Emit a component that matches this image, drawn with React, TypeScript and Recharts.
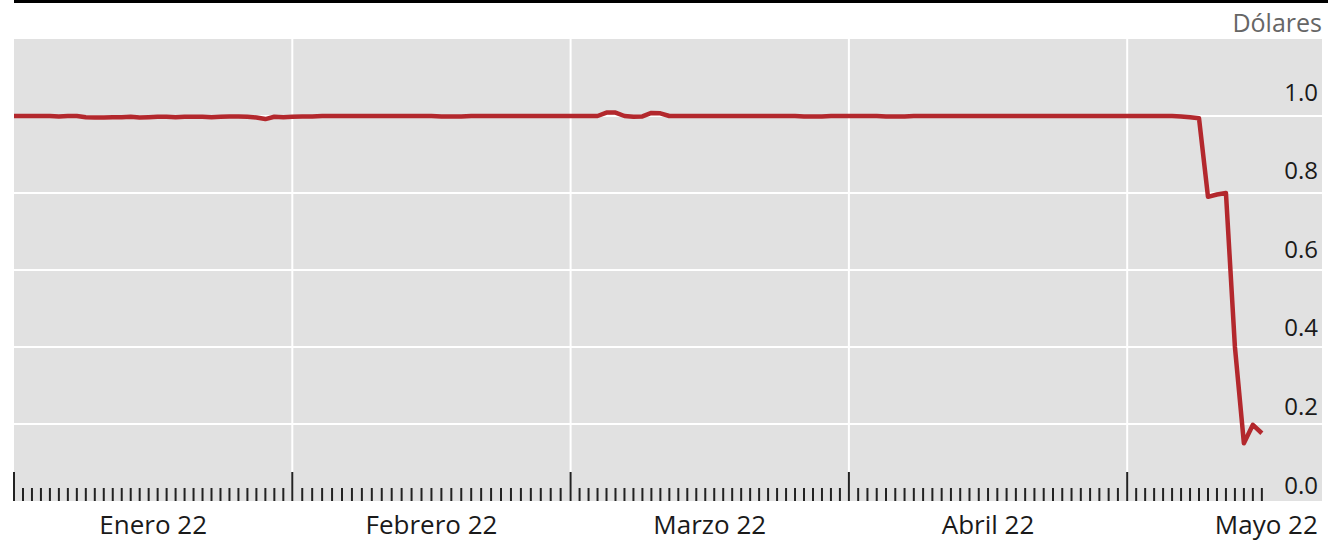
import { CartesianGrid, Line, LineChart, XAxis, YAxis } from 'recharts';

// UST price, daily closes, Jan 1 – May 16 2022. Each month gets the same
// width on the x axis, so a day sits at monthIndex + (day - 1) / daysInMonth.

const MONTH_LABELS = ['Enero 22', 'Febrero 22', 'Marzo 22', 'Abril 22', 'Mayo 22'];
const MONTH_DAYS = [31, 28, 31, 30, 31];
const Y_TICKS = [0, 0.2, 0.4, 0.6, 0.8, 1.0];

const JAN = [
  1.0, 1.0, 1.0, 1.0, 1.0, 0.999, 1.0, 1.0, 0.997, 0.996, 0.996, 0.997, 0.997, 0.998, 0.996, 0.997,
  0.998, 0.998, 0.997, 0.998, 0.998, 0.998, 0.997, 0.998, 0.999, 0.999, 0.998, 0.996, 0.992, 0.998,
  0.997,
];
const FEB = [
  0.998, 0.999, 0.999, 1.0, 1.0, 1.0, 1.0, 1.0, 1.0, 1.0, 1.0, 1.0, 1.0, 1.0, 1.0, 0.999, 0.999,
  0.999, 1.0, 1.0, 1.0, 1.0, 1.0, 1.0, 1.0, 1.0, 1.0, 1.0,
];
const MAR = [
  1.0, 1.0, 1.0, 1.0, 1.009, 1.009, 1.0, 0.998, 0.999, 1.008, 1.007, 1.0, 1.0, 1.0, 1.0, 1.0, 1.0,
  1.0, 1.0, 1.0, 1.0, 1.0, 1.0, 1.0, 1.0, 1.0, 0.999, 0.999, 0.999, 1.0, 1.0,
];
const APR = [
  1.0, 1.0, 1.0, 1.0, 0.999, 0.999, 0.999, 1.0, 1.0, 1.0, 1.0, 1.0, 1.0, 1.0, 1.0, 1.0, 1.0, 1.0,
  1.0, 1.0, 1.0, 1.0, 1.0, 1.0, 1.0, 1.0, 1.0, 1.0, 1.0, 1.0,
];
const MAY = [
  1.0, 1.0, 1.0, 1.0, 1.0, 1.0, 0.999, 0.997, 0.994, 0.79, 0.796, 0.8, 0.4, 0.15, 0.198, 0.176,
];

const SERIES = [JAN, FEB, MAR, APR, MAY];

const data = SERIES.flatMap((vals, m) =>
  vals.map((v, i) => ({ x: m + i / MONTH_DAYS[m], price: v })),
);
const dayTicks = data.map((d) => d.x);
const labelTicks = MONTH_LABELS.map((_, m) => m + 0.5);

const FONT = '"Open Sans", "Noto Sans", sans-serif';

function DayTick({ x, y, payload }: any) {
  const isMonth = Number.isInteger(payload.value);
  return (
    <line
      x1={x}
      x2={x}
      y1={y - (isMonth ? 29 : 13)}
      y2={y}
      stroke="#222"
      strokeWidth={2}
    />
  );
}

function MonthLabel({ x, y, index }: any) {
  return (
    <text x={x} y={y + 32} textAnchor="middle" fontSize={26} fontFamily={FONT} fill="#1a1a1a">
      {MONTH_LABELS[index]}
    </text>
  );
}

function PriceTick({ x, y, payload }: any) {
  const v = payload.value as number;
  return (
    <text
      x={x}
      y={y - 17 - 8 * v}
      textAnchor="end"
      dominantBaseline="central"
      fontSize={24}
      fontFamily={FONT}
      fill="#1a1a1a"
    >
      {v.toFixed(1)}
    </text>
  );
}

export default function App() {
  return (
    <div style={{ position: 'absolute', left: 0, top: 0, width: 1342, height: 544, background: '#fff' }}>
      <div style={{ position: 'absolute', left: 14, top: 0, width: 1314, height: 3, background: '#000' }} />
      <div
        style={{
          position: 'absolute',
          right: 20,
          top: 4,
          fontFamily: FONT,
          fontSize: 25,
          color: '#666',
          lineHeight: '36px',
        }}
      >
        Dólares
      </div>
      <LineChart
        width={1342}
        height={544}
        data={data}
        margin={{ top: 39, right: 20, left: 14, bottom: 0 }}
      >
        <CartesianGrid
          fill="#e1e1e1"
          stroke="#fff"
          strokeWidth={2}
          verticalValues={[1, 2, 3, 4]}
          horizontalValues={[0.2, 0.4, 0.6, 0.8, 1.0]}
          xAxisId="days"
        />
        <XAxis
          xAxisId="days"
          type="number"
          dataKey="x"
          domain={[0, 4.7]}
          allowDataOverflow
          ticks={dayTicks}
          interval={0}
          tick={<DayTick />}
          tickSize={0}
          tickMargin={0}
          tickLine={false}
          axisLine={false}
          height={1}
        />
        <XAxis
          xAxisId="labels"
          type="number"
          dataKey="x"
          domain={[0, 4.7]}
          allowDataOverflow
          ticks={labelTicks}
          interval={0}
          tick={<MonthLabel />}
          tickSize={0}
          tickMargin={0}
          tickLine={false}
          axisLine={false}
          height={42}
        />
        <YAxis
          orientation="right"
          mirror
          domain={[0, 1.2]}
          ticks={Y_TICKS}
          interval={0}
          tick={<PriceTick />}
          tickSize={0}
          tickMargin={4}
          tickLine={false}
          axisLine={false}
          width={1}
        />
        <Line
          xAxisId="days"
          type="linear"
          dataKey="price"
          stroke="#b3282d"
          strokeWidth={4.5}
          strokeLinejoin="round"
          dot={false}
          isAnimationActive={false}
        />
      </LineChart>
    </div>
  );
}
